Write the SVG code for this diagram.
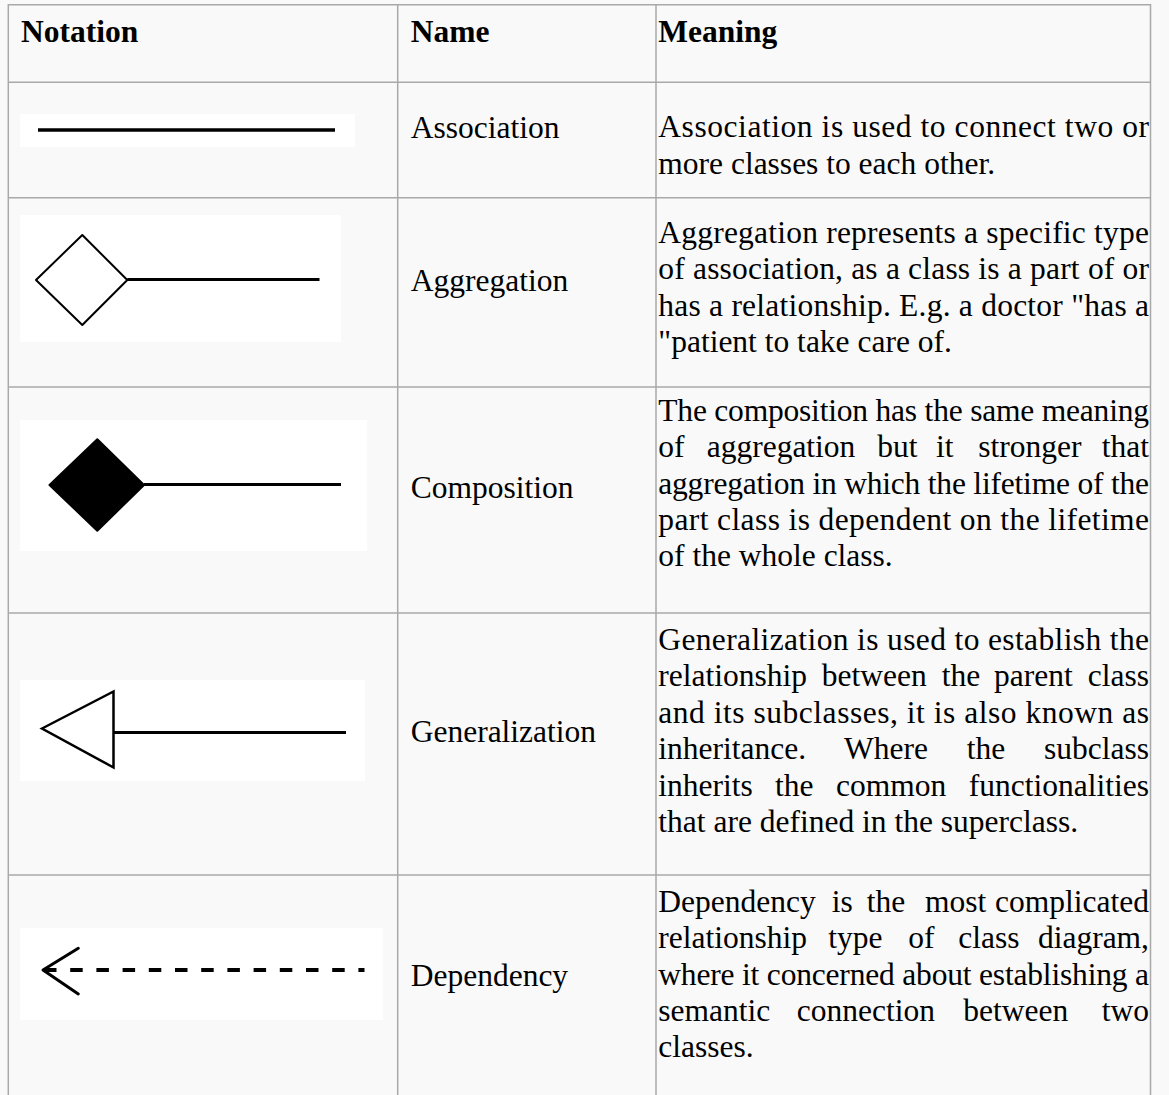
<svg xmlns="http://www.w3.org/2000/svg" width="1169" height="1095" viewBox="0 0 1169 1095">
  <style>
    .bg { fill: #f9f9f9; }
    .grid line { stroke: #a9a9a9; stroke-width: 1.5; }
    .hd { font-family: "Liberation Serif", "Times New Roman", serif; font-size: 31.5px; font-weight: bold; fill: #000; }
    .tx { font-family: "Liberation Serif", "Times New Roman", serif; font-size: 31.5px; fill: #000; }
    .pic { fill: #ffffff; }
    .ln { stroke: #000; stroke-width: 3; fill: none; }
  </style>

  <rect class="bg" x="0" y="0" width="1169" height="1095"/>

  <!-- table rules -->
  <g class="grid" id="grid">
    <line x1="8" y1="4.7" x2="1150.5" y2="4.7"/>
    <line x1="8" y1="82.3" x2="1150.5" y2="82.3"/>
    <line x1="8" y1="197.7" x2="1150.5" y2="197.7"/>
    <line x1="8" y1="387" x2="1150.5" y2="387"/>
    <line x1="8" y1="613" x2="1150.5" y2="613"/>
    <line x1="8" y1="875" x2="1150.5" y2="875"/>
    <line x1="8.3" y1="4" x2="8.3" y2="1095"/>
    <line x1="397.7" y1="4" x2="397.7" y2="1095"/>
    <line x1="656" y1="4" x2="656" y2="1095"/>
    <line x1="1150.5" y1="4" x2="1150.5" y2="1095"/>
  </g>

  <!-- header -->
  <g id="header">
    <text class="hd" x="21" y="42">Notation</text>
    <text class="hd" x="410.7" y="42">Name</text>
    <text class="hd" x="658.3" y="42">Meaning</text>
  </g>

  <!-- notation symbols -->
  <g id="connectors">
    <g id="association-symbol">
      <rect class="pic" x="20" y="114" width="335" height="33"/>
      <line class="ln" x1="38" y1="130" x2="335" y2="130" style="stroke-width:3.5"/>
    </g>
    <g id="aggregation-symbol">
      <rect class="pic" x="20" y="215" width="321" height="127"/>
      <path d="M36,280 L82.3,235 L127.3,280 L82.3,325 Z" fill="#fff" stroke="#000" stroke-width="2" stroke-linejoin="round"/>
      <line class="ln" x1="127.3" y1="279.5" x2="319.5" y2="279.5"/>
    </g>
    <g id="composition-symbol">
      <rect class="pic" x="20" y="420" width="347" height="131"/>
      <path d="M49.5,485 L97.3,439.3 L144,485 L97.3,530.7 Z" fill="#000" stroke="#000" stroke-width="2" stroke-linejoin="round"/>
      <line class="ln" x1="144" y1="484.5" x2="341" y2="484.5"/>
    </g>
    <g id="generalization-symbol">
      <rect class="pic" x="20" y="680" width="345" height="101"/>
      <path d="M42,728.5 L113.5,691.5 L113.5,767.5 Z" fill="#fff" stroke="#000" stroke-width="2.5" stroke-linejoin="miter"/>
      <line class="ln" x1="113.5" y1="732.5" x2="346" y2="732.5"/>
    </g>
    <g id="dependency-symbol">
      <rect class="pic" x="20" y="928" width="363" height="92"/>
      <polyline class="ln" points="78.3,948.3 43,970 78.3,994" stroke-linecap="round" stroke-linejoin="round"/>
      <line x1="44" y1="970" x2="364.5" y2="970" stroke="#000" stroke-width="4" stroke-dasharray="12.5 13.7"/>
    </g>
  </g>

  <!-- row: association -->
  <g id="row-association">
    <text class="tx" x="410.7" y="138">Association</text>
    <text class="tx" x="658.3" y="137.3" textLength="490.7" lengthAdjust="spacing">Association is used to connect two or</text>
    <text class="tx" x="658.3" y="173.7">more classes to each other.</text>
  </g>

  <!-- row: aggregation -->
  <g id="row-aggregation">
    <text class="tx" x="410.7" y="290.7">Aggregation</text>
    <text class="tx" x="658.3" y="242.7" textLength="490.7" lengthAdjust="spacing">Aggregation represents a specific type</text>
    <text class="tx" x="658.3" y="279.1" textLength="490.7" lengthAdjust="spacing">of association, as a class is a part of or</text>
    <text class="tx" x="658.3" y="315.5" textLength="490.7" lengthAdjust="spacing">has a relationship. E.g. a doctor "has a</text>
    <text class="tx" x="658.3" y="351.9">"patient to take care of.</text>
  </g>

  <!-- row: composition -->
  <g id="row-composition">
    <text class="tx" x="410.7" y="498">Composition</text>
    <text class="tx" x="658.3" y="420.7" textLength="490.7" lengthAdjust="spacing">The composition has the same meaning</text>
    <text class="tx" y="457.1"><tspan x="658.3">of</tspan><tspan x="706.7">aggregation</tspan><tspan x="877.3">but</tspan><tspan x="936">it</tspan><tspan x="978.3">stronger</tspan></text>
    <text class="tx" x="1149" y="457.1" text-anchor="end">that</text>
    <text class="tx" x="658.3" y="493.5" textLength="490.7" lengthAdjust="spacing">aggregation in which the lifetime of the</text>
    <text class="tx" x="658.3" y="529.9" textLength="490.7" lengthAdjust="spacing">part class is dependent on the lifetime</text>
    <text class="tx" x="658.3" y="566.3">of the whole class.</text>
  </g>

  <!-- row: generalization -->
  <g id="row-generalization">
    <text class="tx" x="410.7" y="742">Generalization</text>
    <text class="tx" x="658.3" y="650" textLength="490.7" lengthAdjust="spacing">Generalization is used to establish the</text>
    <text class="tx" y="686.4"><tspan x="658.3">relationship</tspan><tspan x="821.7">between</tspan><tspan x="941.7">the</tspan><tspan x="994">parent</tspan></text>
    <text class="tx" x="1149" y="686.4" text-anchor="end">class</text>
    <text class="tx" x="658.3" y="722.8" textLength="490.7" lengthAdjust="spacing">and its subclasses, it is also known as</text>
    <text class="tx" y="759.2"><tspan x="658.3">inheritance.</tspan><tspan x="844">Where</tspan><tspan x="966.7">the</tspan></text>
    <text class="tx" x="1149" y="759.2" text-anchor="end">subclass</text>
    <text class="tx" y="795.6"><tspan x="658.3">inherits</tspan><tspan x="775">the</tspan><tspan x="836">common</tspan></text>
    <text class="tx" x="1149" y="795.6" text-anchor="end">functionalities</text>
    <text class="tx" x="658.3" y="832">that are defined in the superclass.</text>
  </g>

  <!-- row: dependency -->
  <g id="row-dependency">
    <text class="tx" x="410.7" y="986">Dependency</text>
    <text class="tx" y="911.7"><tspan x="658.3">Dependency</tspan><tspan x="831.7">is</tspan><tspan x="866.7">the</tspan><tspan x="925">most</tspan></text>
    <text class="tx" x="1149" y="911.7" text-anchor="end">complicated</text>
    <text class="tx" y="948.1"><tspan x="658.3">relationship</tspan><tspan x="828.3">type</tspan><tspan x="908.3">of</tspan><tspan x="958.3">class</tspan></text>
    <text class="tx" x="1149" y="948.1" text-anchor="end">diagram,</text>
    <text class="tx" x="658.3" y="984.5" textLength="490.7" lengthAdjust="spacing">where it concerned about establishing a</text>
    <text class="tx" y="1020.9"><tspan x="658.3">semantic</tspan><tspan x="796.7">connection</tspan><tspan x="963.3">between</tspan></text>
    <text class="tx" x="1149" y="1020.9" text-anchor="end">two</text>
    <text class="tx" x="658.3" y="1057.3">classes.</text>
  </g>
</svg>
